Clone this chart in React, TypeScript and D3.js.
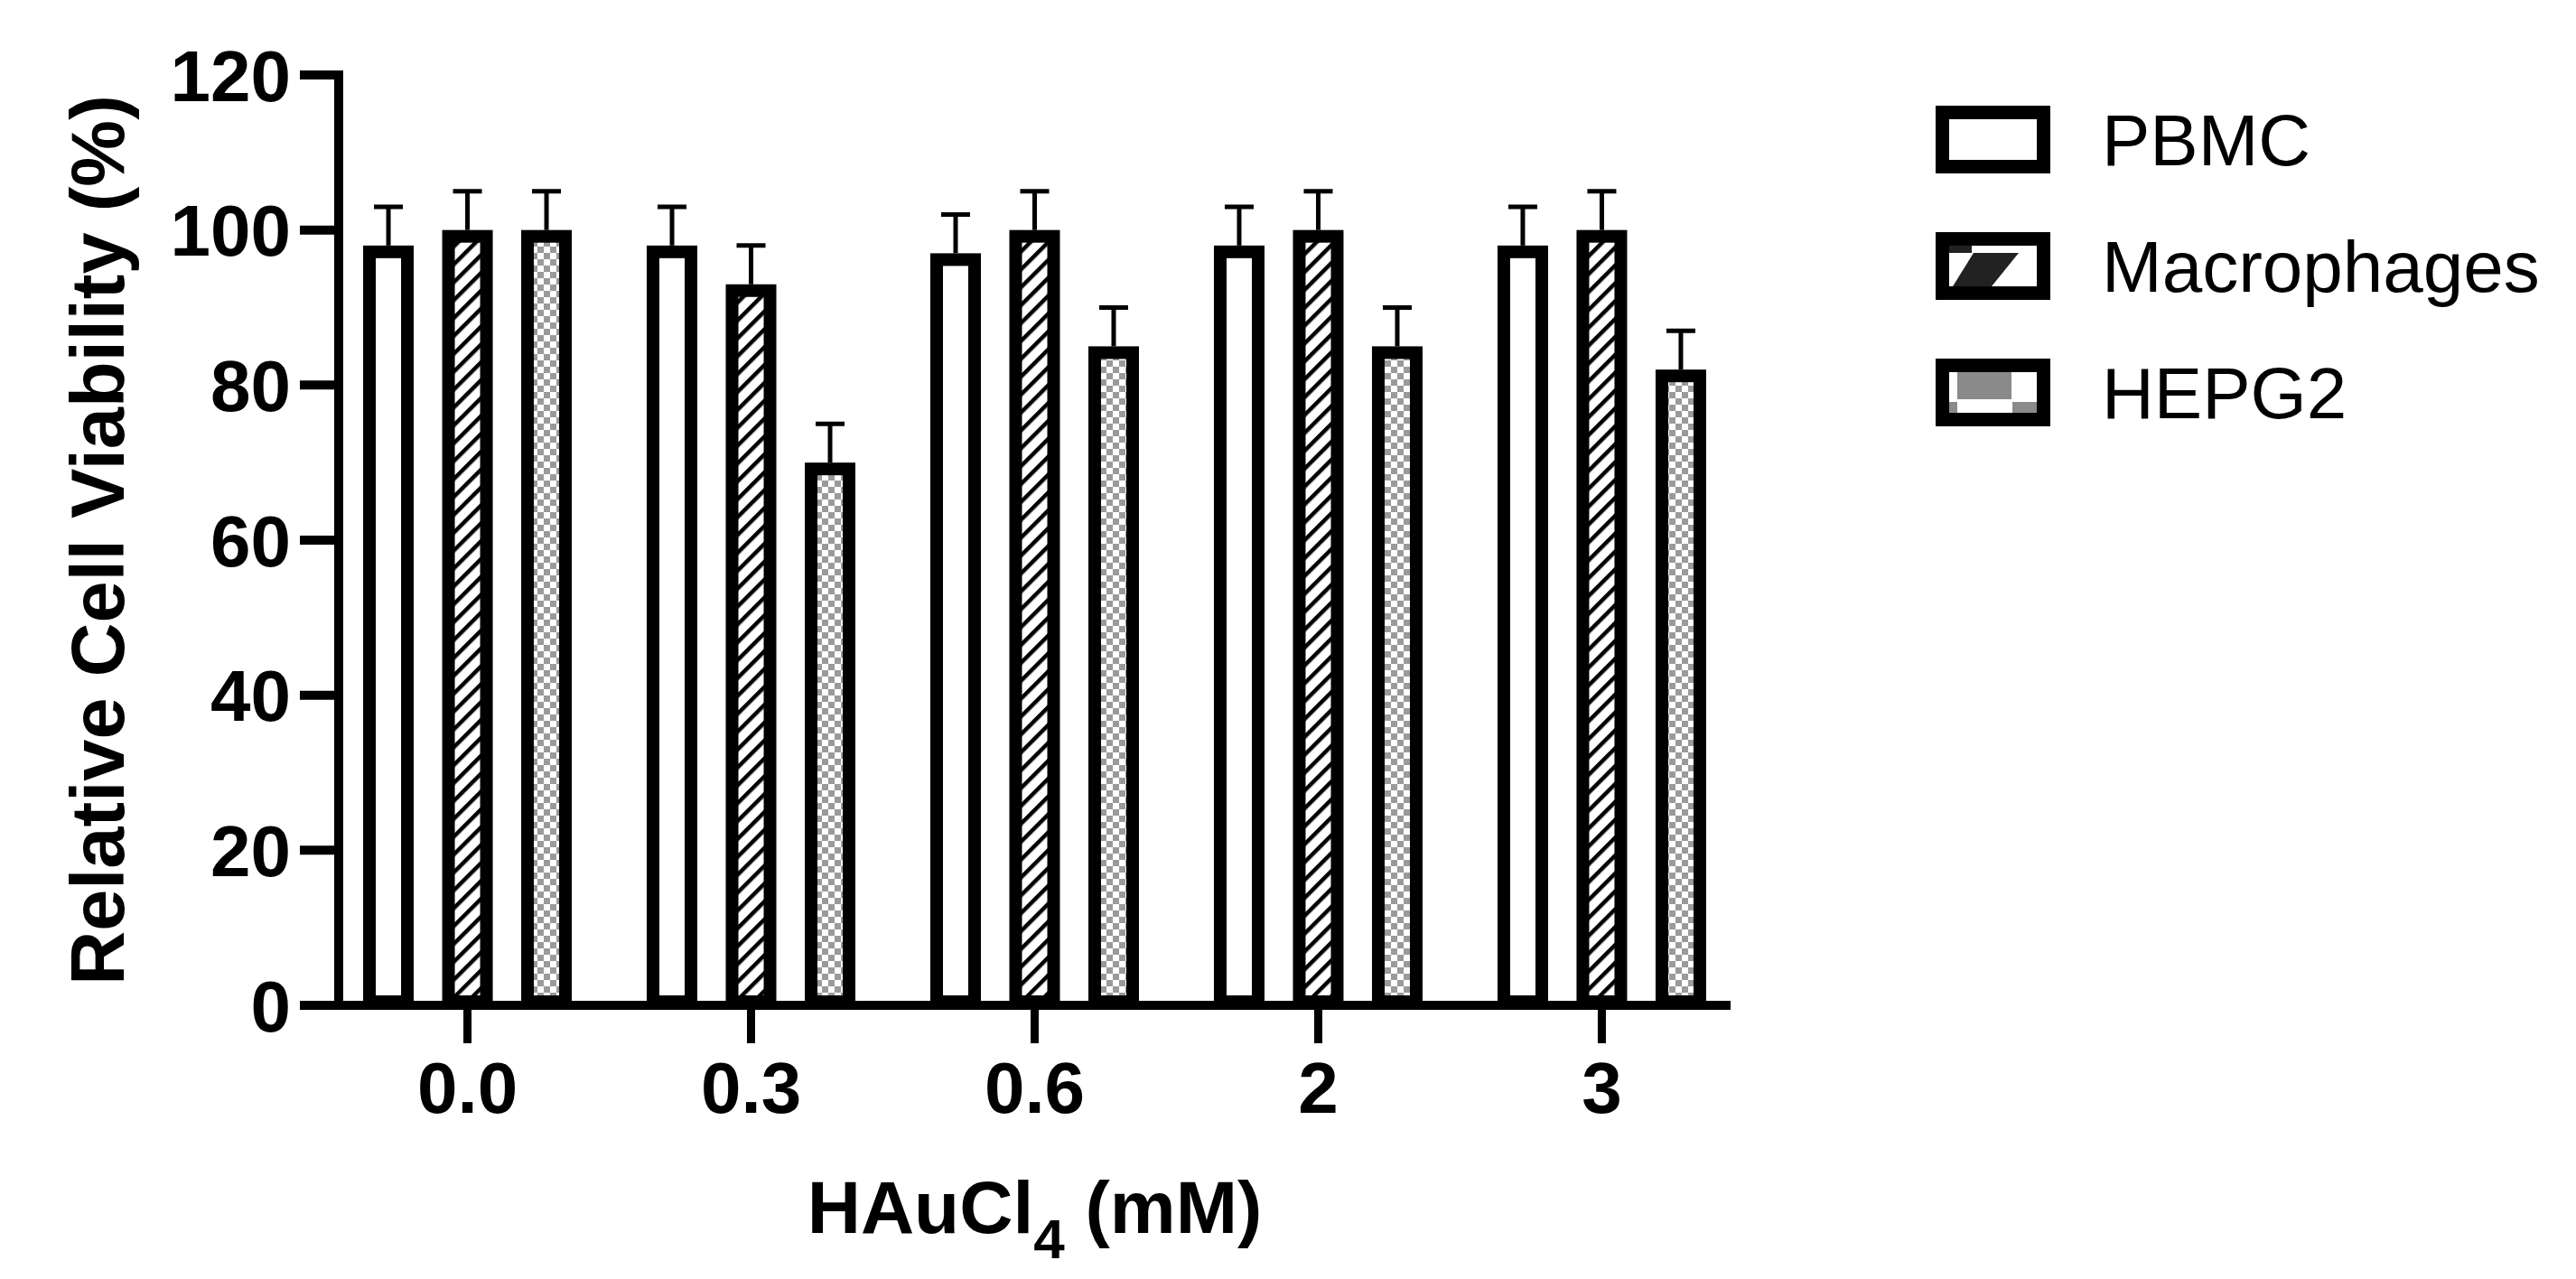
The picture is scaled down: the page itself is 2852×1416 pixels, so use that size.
import React from 'react';
import * as d3 from 'd3';

const categories = ['0.0', '0.3', '0.6', '2', '3'];
const seriesNames = ['PBMC', 'Macrophages', 'HEPG2'];
const pbmcValues = [98, 98, 97, 98, 98];
const macrophageValues = [100, 93, 100, 100, 100];
const hepg2Values = [100, 70, 85, 85, 82];
const pbmcErrors = [5, 5, 5, 5, 5];
const macrophageErrors = [5, 5, 5, 5, 5];
const hepg2Errors = [5, 5, 5, 5, 5];
const yTicks = [0, 20, 40, 60, 80, 100, 120];
const yTitle = 'Relative Cell Viability (%)';

const W = 2852;
const H = 1416;
const FONT = '"Liberation Sans", Arial, Helvetica, sans-serif';

export default function App() {
  const axisLeft = 375;
  const axisRight = 1916;
  const y = d3.scaleLinear().domain([0, 120]).range([1113, 83]);
  const x = d3.scalePoint<string>().domain(categories).range([axisLeft, axisRight]).padding(0.454);
  const sub = d3
    .scaleBand<string>()
    .domain(seriesNames)
    .range([-131.25, 131.25])
    .paddingInner(0.36)
    .paddingOuter(0.18);
  const bw = sub.bandwidth();
  const fills: Record<string, string> = {
    PBMC: '#ffffff',
    Macrophages: 'url(#hatch)',
    HEPG2: 'url(#checker)',
  };
  const valueBySeries: Record<string, number[]> = {
    PBMC: pbmcValues,
    Macrophages: macrophageValues,
    HEPG2: hepg2Values,
  };
  const errBySeries: Record<string, number[]> = {
    PBMC: pbmcErrors,
    Macrophages: macrophageErrors,
    HEPG2: hepg2Errors,
  };
  const bw0 = 14; // bar border
  const y0 = y(0);

  const bars: any[] = [];
  categories.forEach((c, ci) => {
    seriesNames.forEach((s) => {
      const v = valueBySeries[s][ci];
      const e = errBySeries[s][ci];
      const gx = (x(c) as number) + (sub(s) as number);
      bars.push({ key: `${c}-${s}`, s, gx, v, e, cx: gx + bw / 2 });
    });
  });

  const legendX = 2143;
  const legendTop = 117;
  const legendPitch = 140;
  const swW = 127;
  const swH = 75;

  return (
    <div>
      <style>{`body{margin:0;background:#fff}`}</style>
      <svg width={W} height={H} viewBox={`0 0 ${W} ${H}`} style={{ display: 'block', background: '#fff' }}>
        <defs>
          <pattern id="hatch" patternUnits="userSpaceOnUse" width="14" height="14" patternTransform="rotate(45)">
            <rect x="0" y="0" width="14" height="14" fill="#fff" />
            <rect x="0" y="0" width="4.5" height="14" fill="#000" />
          </pattern>
          <pattern id="checker" patternUnits="userSpaceOnUse" width="14" height="14">
            <rect x="0" y="0" width="14" height="14" fill="#fff" />
            <rect x="0" y="0" width="7" height="7" fill="#9a9a9a" />
            <rect x="7" y="7" width="7" height="7" fill="#9a9a9a" />
          </pattern>
        </defs>

        {/* bars */}
        {bars.map((b) => {
          const top = y(b.v);
          return (
            <rect
              key={b.key}
              x={b.gx + bw0 / 2}
              y={top + bw0 / 2}
              width={bw - bw0}
              height={y0 - top - bw0 / 2 - 4}
              fill={fills[b.s]}
              stroke="#000"
              strokeWidth={bw0}
            />
          );
        })}

        {/* error bars */}
        {bars.map((b) => (
          <g key={`e-${b.key}`} stroke="#000" strokeWidth={5}>
            <line x1={b.cx} x2={b.cx} y1={y(b.v)} y2={y(b.v + b.e)} />
            <line x1={b.cx - 16} x2={b.cx + 16} y1={y(b.v + b.e)} y2={y(b.v + b.e)} />
          </g>
        ))}

        {/* y axis */}
        <line x1={axisLeft} x2={axisLeft} y1={y(120) - 5} y2={y0 + 5} stroke="#000" strokeWidth={10} />
        {yTicks.map((t) => (
          <g key={`yt-${t}`}>
            <line x1={332} x2={axisLeft} y1={y(t)} y2={y(t)} stroke="#000" strokeWidth={10} />
            <text
              x={322}
              y={y(t) + 28.5}
              textAnchor="end"
              fontFamily={FONT}
              fontWeight="bold"
              fontSize={80}
              fill="#000"
            >
              {t}
            </text>
          </g>
        ))}

        {/* x axis */}
        <line x1={axisLeft - 5} x2={axisRight} y1={y0} y2={y0} stroke="#000" strokeWidth={10} />
        {categories.map((c) => (
          <g key={`xt-${c}`}>
            <line x1={x(c)} x2={x(c)} y1={y0} y2={1155} stroke="#000" strokeWidth={9} />
            <text
              x={x(c)}
              y={1232}
              textAnchor="middle"
              fontFamily={FONT}
              fontWeight="bold"
              fontSize={80}
              fill="#000"
            >
              {c}
            </text>
          </g>
        ))}

        {/* axis titles */}
        <text
          x={(axisLeft + axisRight) / 2}
          y={1365}
          textAnchor="middle"
          fontFamily={FONT}
          fontWeight="bold"
          fontSize={82}
          fill="#000"
        >
          HAuCl
          <tspan fontSize={62} dy={28}>
            4
          </tspan>
          <tspan dy={-28}> (mM)</tspan>
        </text>
        <text
          transform={`translate(137, ${(y(120) + y0) / 2}) rotate(-90)`}
          textAnchor="middle"
          fontFamily={FONT}
          fontWeight="bold"
          fontSize={83}
          fill="#000"
        >
          {yTitle}
        </text>

        {/* legend */}
        {seriesNames.map((s, i) => {
          const ty = legendTop + i * legendPitch;
          const ix = legendX + 15;
          const iy = ty + 15;
          const iw = swW - 30;
          const ih = swH - 30;
          return (
            <g key={`lg-${s}`}>
              <rect x={legendX} y={ty} width={swW} height={swH} fill="#fff" />
              {s === 'Macrophages' && (
                <g fill="#222">
                  <polygon
                    points={`${ix + 4},${iy + ih} ${ix + 47},${iy + ih} ${ix + 77},${iy + 8} ${ix + 27},${iy + 8}`}
                  />
                  <rect x={ix} y={iy} width={25} height={8} />
                </g>
              )}
              {s === 'HEPG2' && (
                <g fill="#8a8a8a">
                  <rect x={ix + 9} y={iy} width={60} height={30} />
                  <rect x={ix} y={iy + 33} width={9} height={ih - 33} />
                  <rect x={ix + 70} y={iy + 33} width={iw - 70} height={ih - 33} />
                </g>
              )}
              <rect
                x={legendX + 7.5}
                y={ty + 7.5}
                width={swW - 15}
                height={swH - 15}
                fill="none"
                stroke="#000"
                strokeWidth={15}
              />
              <text x={2327} y={ty + 66} fontFamily={FONT} fontSize={80} fill="#000">
                {s}
              </text>
            </g>
          );
        })}
      </svg>
    </div>
  );
}
